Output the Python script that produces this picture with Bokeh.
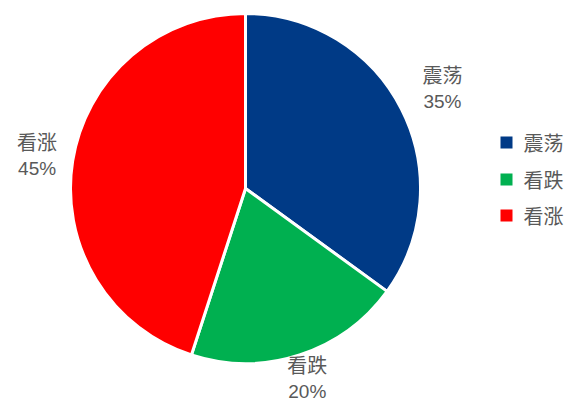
import math
from bokeh.plotting import figure
from bokeh.models import Range1d, ColumnDataSource
from bokeh.core.properties import value
from bokeh.embed import file_html
from bokeh.resources import INLINE

categories = ["震荡", "看跌", "看涨"]
shares = [35, 20, 45]
colors = ["#003A86", "#00B050", "#FF0000"]

W, H = 579, 403
p = figure(width=W, height=H, output_backend="svg", toolbar_location=None,
           x_range=Range1d(0, W), y_range=Range1d(0, H), min_border=0)
p.axis.visible = False
p.grid.visible = False
p.outline_line_color = None
p.background_fill_color = "white"

cx, cy, R = 245, 215, 175
label_r = [221, 200, 211]  # distance of each label from the pie centre (screen px)

total = sum(shares)
starts, ends, mids = [], [], []
acc = 0.0
for s in shares:
    a0 = acc / total
    acc += s
    a1 = acc / total
    starts.append(math.pi / 2 - a0 * 2 * math.pi)
    ends.append(math.pi / 2 - a1 * 2 * math.pi)
    mids.append(math.pi / 2 - (a0 + a1) / 2 * 2 * math.pi)

src = ColumnDataSource(dict(x=[cx] * 3, y=[cy] * 3, start=starts, end=ends, color=colors))
p.wedge(x="x", y="y", radius=R, radius_units="screen", start_angle="start", end_angle="end",
        direction="clock", fill_color="color", line_color="white", line_width=3, source=src)

lx = [cx + r * math.cos(m) for r, m in zip(label_r, mids)]
ly = [cy + r * math.sin(m) for r, m in zip(label_r, mids)]
pct = [f"{s}%" for s in shares]
p.text(x=lx, y=[v + 14 for v in ly], text=categories, text_align="center", text_baseline="middle",
       text_font=value("Noto Sans CJK SC"), text_font_size="20px", text_color="#595959")
p.text(x=lx, y=[v - 13 for v in ly], text=pct, text_align="center", text_baseline="middle",
       text_font=value("Liberation Sans"), text_font_size="19px", text_color="#595959")

# legend
leg_x = 506
leg_y = [261, 224, 188]
p.scatter(x=[leg_x] * 3, y=leg_y, marker="square", size=12, fill_color=colors, line_color=None)
p.text(x=[leg_x + 17] * 3, y=leg_y, text=categories, text_align="left", text_baseline="middle",
       text_font=value("Noto Sans CJK SC"), text_font_size="20px", text_color="#595959")

open("out.html", "w").write(file_html(p, INLINE))
